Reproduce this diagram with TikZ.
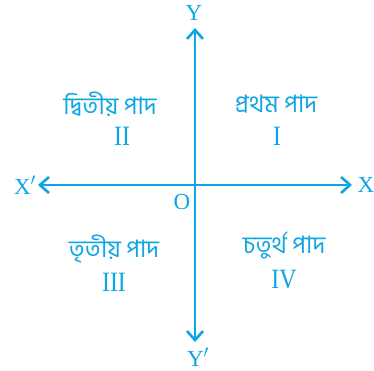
\documentclass[tikz,border=0pt]{standalone}
\usepackage{fontspec}
\setmainfont{Liberation Serif}
\newfontfamily\bnfont[Script=Bengali]{Hind Siliguri}
\usetikzlibrary{arrows.meta}
\definecolor{axcol}{RGB}{14,165,228}
\tikzset{
  axis/.style={draw=axcol, line width=2.6pt, -{Straight Barb[length=9pt,width=16pt,line width=2.6pt]}},
  lbl/.style={text=axcol, font=\fontsize{23}{25}\selectfont, inner sep=0pt},
  bn/.style={text=axcol, font=\bnfont\fontsize{24}{26}\selectfont, inner sep=0pt},
  num/.style={text=axcol, font=\fontsize{28}{30}\selectfont, inner sep=0pt}
}
\begin{document}
\begin{tikzpicture}[x=1pt,y=1pt]
\useasboundingbox (0,0) rectangle (374,370);
\coordinate (o) at (195,185);
\coordinate (xp) at (352,185);
\coordinate (xm) at (38,185);
\coordinate (yp) at (195,342);
\coordinate (ym) at (195,28);
\draw[axis] (o) -- (xp);
\draw[axis] (o) -- (xm);
\draw[axis] (o) -- (yp);
\draw[axis] (o) -- (ym);
\node[lbl] (X) at (366,185) {X};
\node[lbl] (Xm) at (25,185) {X$'$};
\node[lbl] (Y) at (194,357) {Y};
\node[lbl] (Ym) at (198,13) {Y$'$};
\node[lbl] (O) at (182,168) {O};
\node[bn] (q2) at (110,266) {দ্বিতীয় পাদ};
\node[num] (n2) at (122,234) {\scalebox{0.85}[1]{II}};
\node[bn] (q1) at (276,266) {প্রথম পাদ};
\node[num] (n1) at (277,234) {\scalebox{0.85}[1]{I}};
\node[bn] (q3) at (114,121) {তৃতীয় পাদ};
\node[num] (n3) at (114,88) {\scalebox{0.85}[1]{III}};
\node[bn] (q4) at (284,124) {চতুর্থ পাদ};
\node[num] (n4) at (284,90) {\scalebox{0.85}[1]{IV}};
\end{tikzpicture}
\end{document}
